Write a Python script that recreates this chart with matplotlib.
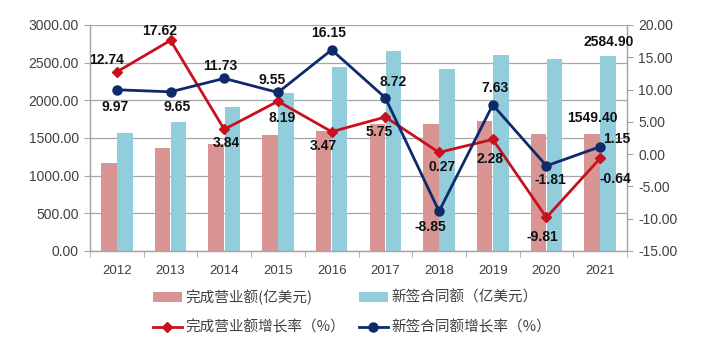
import matplotlib
matplotlib.use("Agg")
import matplotlib.pyplot as plt
import numpy as np
from matplotlib.ticker import FixedLocator, FuncFormatter

plt.rcParams['font.family'] = ['Liberation Sans', 'Noto Sans CJK SC', 'DejaVu Sans']

years = ['2012', '2013', '2014', '2015', '2016', '2017', '2018', '2019', '2020', '2021']
revenue = [1166, 1371, 1424, 1541, 1594, 1686, 1690, 1729, 1559, 1549.4]
contracts = [1565, 1716, 1918, 2101, 2440, 2653, 2418, 2603, 2555, 2584.9]
revenue_growth = [12.74, 17.62, 3.84, 8.19, 3.47, 5.75, 0.27, 2.28, -9.81, -0.64]
contract_growth = [9.97, 9.65, 11.73, 9.55, 16.15, 8.72, -8.85, 7.63, -1.81, 1.15]

names = ['完成营业额(亿美元)', '新签合同额（亿美元）', '完成营业额增长率（%）', '新签合同额增长率（%）']

# label offsets in pixels (dx, dy with y up)
rev_off = [(-10, 12), (-11, 9), (2, -14), (4, -17), (-8, -14), (-6, -15), (3, -15), (-3, -20), (-4, -20), (15, -21)]
con_off = [(-2, -17), (7, -15), (-4, 12), (-6, 12), (-3, 17), (8, 16), (-9, -16), (2, 17), (4, -14), (17, 8)]

fig = plt.figure(figsize=(7.05, 3.52), dpi=100)
ax = fig.add_axes([90/705, 1-251/352, (627-90)/705, 226/352])
ax2 = ax.twinx()

x = np.arange(len(years))
w = 0.29
red_bar = '#D99594'
blue_bar = '#92CDDC'
red_line = '#C8101E'
blue_line = '#0E2A6B'
grid_c = '#A6A6A6'
txt_c = '#404040'

b1 = ax.bar(x - 0.15, revenue, w, color=red_bar, zorder=2, label=names[0])
b2 = ax.bar(x + 0.15, contracts, w, color=blue_bar, zorder=2, label=names[1])
ax.set_ylim(0, 3000)
ax.set_xlim(-0.5, len(years) - 0.5)
ax.yaxis.set_major_locator(FixedLocator(np.arange(0, 3001, 500)))
ax.yaxis.set_major_formatter(FuncFormatter(lambda v, p: f'{v:.2f}'))
ax.grid(axis='y', color=grid_c, linewidth=0.9, zorder=0)
ax.set_axisbelow(True)
ax.set_xticks(x)
ax.set_xticklabels(years)
ax.xaxis.set_minor_locator(FixedLocator(np.arange(-0.5, len(years), 1)))
ax.tick_params(axis='x', which='major', length=0, pad=10, labelsize=9.5, labelcolor=txt_c)
ax.tick_params(axis='x', which='minor', length=4, color=grid_c, direction='out')
ax.tick_params(axis='y', length=4, color=grid_c, labelsize=10, labelcolor=txt_c, pad=4)

l1, = ax2.plot(x, revenue_growth, color=red_line, marker='D', markersize=5, linewidth=2, label=names[2], zorder=3)
l2, = ax2.plot(x, contract_growth, color=blue_line, marker='o', markersize=6.5, linewidth=2, label=names[3], zorder=4)
ax2.set_ylim(-15, 20)
ax2.yaxis.set_major_locator(FixedLocator(np.arange(-15, 21, 5)))
ax2.yaxis.set_major_formatter(FuncFormatter(lambda v, p: f'{v:.2f}'))
ax2.tick_params(axis='y', length=4, color=grid_c, labelsize=10, labelcolor=txt_c, pad=4)

for a in (ax, ax2):
    for s in a.spines.values():
        s.set_color(grid_c)
        s.set_linewidth(0.9)
ax2.spines['top'].set_visible(False)
ax.spines['top'].set_visible(False)

for i, v in enumerate(revenue_growth):
    ax2.annotate(f'{v:.2f}', (x[i], v), xytext=rev_off[i], textcoords='offset pixels',
                 ha='center', va='center', fontsize=10, fontweight='bold', color='#111111', zorder=6)
for i, v in enumerate(contract_growth):
    ax2.annotate(f'{v:.2f}', (x[i], v), xytext=con_off[i], textcoords='offset pixels',
                 ha='center', va='center', fontsize=10, fontweight='bold', color='#111111', zorder=6)

last = len(years) - 1
ax2.annotate(f'{contracts[last]:.2f}', (x[last] + 0.15, ax2.get_ylim()[0] + (contracts[last] / 3000) * 35),
             xytext=(0, 14), textcoords='offset pixels', ha='center', va='center',
             fontsize=10, fontweight='bold', color='#111111', zorder=6)
ax2.annotate(f'{revenue[last]:.2f}', (x[last] - 0.15, ax2.get_ylim()[0] + (revenue[last] / 3000) * 35),
             xytext=(0, 16), textcoords='offset pixels', ha='center', va='center',
             fontsize=10, fontweight='bold', color='#111111', zorder=6)

leg = fig.legend([b1, l1, b2, l2], [names[0], names[2], names[1], names[3]],
                 ncol=2, loc='center', bbox_to_anchor=(352/705, 1-312/352),
                 frameon=False, handlelength=2.0, handletextpad=0.25,
                 columnspacing=0.9, labelspacing=1.05,
                 prop={'family': ['Noto Sans CJK SC', 'DejaVu Sans'], 'size': 10.5})
for t in leg.get_texts():
    t.set_color(txt_c)

fig.savefig('out.png', dpi=100)
